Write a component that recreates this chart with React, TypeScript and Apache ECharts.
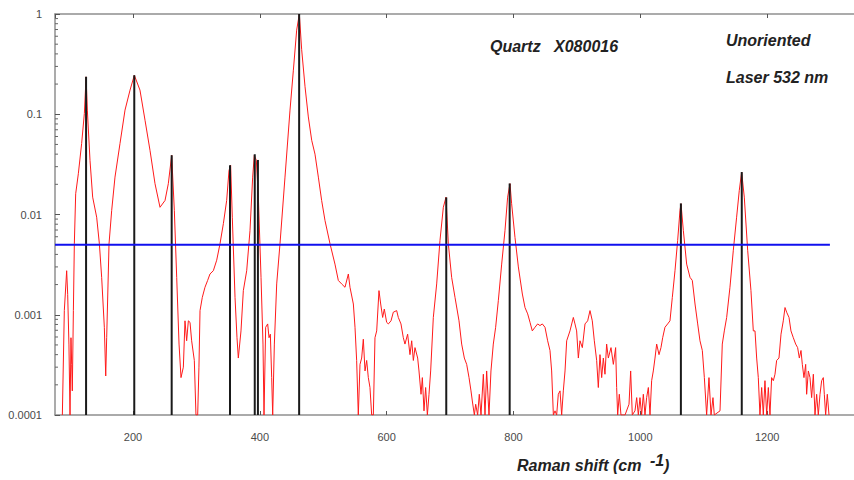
import React, { useEffect, useRef } from "react";
import * as echarts from "echarts";

const xMin = 77;
const xMax = 1337;
const yMin = 0.0001;
const yMax = 1;
const xTickLabels = ["200", "400", "600", "800", "1000", "1200"];
const yTickLabels = ["0.0001", "0.001", "0.01", "0.1", "1"];

// Raman spectrum (shift in cm-1, relative intensity)
const spectrumLow: number[][] = [
  [88.6, 0.0001], [91.7, 0.0011], [95.4, 0.00275], [97, 0.0016], [99, 0.0005], [100.7, 0.0001],
  [102.2, 0.00059], [103.3, 0.00032], [104.3, 0.000174], [106, 0.0011], [107.5, 0.0051], [109.6, 0.0161],
  [113.8, 0.0255], [119, 0.051], [123.3, 0.102], [126, 0.236], [128, 0.11], [132.2, 0.0347],
  [136.4, 0.0149], [142.7, 0.0094], [147, 0.0051], [150.6, 0.00236], [154.8, 0.00075], [157, 0.000245],
  [158.5, 0.00059], [162.2, 0.0051], [166.4, 0.011], [171.6, 0.0236], [179.5, 0.051], [187.4, 0.11],
  [195.3, 0.174], [202.1, 0.245], [211, 0.174], [219, 0.087], [226.8, 0.0437], [234.7, 0.0203],
  [242.6, 0.0118], [250.5, 0.0138], [255.7, 0.0203], [261, 0.039], [265.2, 0.011], [268.9, 0.00236],
  [272.6, 0.00051], [275.7, 0.000236], [279.4, 0.0003], [282, 0.00087], [284.6, 0.00055], [287.3, 0.00087],
  [289.9, 0.00084], [292.5, 0.00055], [296.7, 0.00035], [299.3, 0.0001], [302, 0.0001], [304, 0.0003],
  [305.7, 0.0011], [309.3, 0.00149], [313.5, 0.00188], [317.7, 0.0022], [321.4, 0.00255], [326.7, 0.00275],
  [332, 0.0035], [337.2, 0.0051], [342.5, 0.0081], [347.7, 0.0138], [351.4, 0.0275], [354, 0.031],
  [356.6, 0.0094], [360.9, 0.00149], [364, 0.00059], [366.1, 0.00037], [370.3, 0.00069], [374, 0.00174],
  [379.3, 0.00275], [384.5, 0.0069], [388.7, 0.0236], [391.3, 0.039], [394.5, 0.0347], [397.7, 0.0149],
  [401.9, 0.00236], [405, 0.00051], [406.6, 0.0001], [409.2, 0.00075], [412.4, 0.00081], [414.5, 0.00059],
  [416.6, 0.00064], [418.7, 0.000236], [420.3, 0.0001], [422.9, 0.00051], [426.6, 0.00203], [431.8, 0.0051],
  [439.7, 0.0236], [447.6, 0.11], [452.9, 0.275], [458.1, 0.69], [462.3, 1.0], [466, 0.44],
  [471.3, 0.188], [476.5, 0.094], [481.8, 0.055], [487, 0.04],
];

const spectrumMid: number[][] = [
  [492.3, 0.0236], [497.5, 0.0138], [502.8, 0.0087], [510.7, 0.0051], [518.5, 0.0032], [523.8, 0.0022],
  [529, 0.00203], [534.3, 0.00188], [539.6, 0.00255], [542.2, 0.00188], [547.5, 0.00128], [550.1, 0.00075],
  [552.7, 0.00035], [555.3, 0.0001], [558, 0.00032], [560.6, 0.00037], [563.2, 0.00057], [565.9, 0.000275],
  [568.5, 0.00035], [571.1, 0.000236], [573.7, 0.000188], [576.4, 0.0001], [579, 0.0001], [581.6, 0.00059],
  [584.3, 0.00069], [587.9, 0.00174], [590.6, 0.00128], [593.7, 0.00094], [596.3, 0.00114], [600, 0.00084],
  [602.7, 0.00081], [606.9, 0.00087], [610.5, 0.00106], [615.8, 0.0011], [618.4, 0.00094], [622.6, 0.00081],
  [626.3, 0.00059], [628.9, 0.00051], [633.1, 0.00064], [636.8, 0.0004], [639.5, 0.00055], [642.1, 0.00035],
  [644.7, 0.00047], [648.9, 0.00037], [651, 0.000275], [654.2, 0.000161], [656.3, 0.000236], [658.9, 0.00011],
  [661.5, 0.000188], [664.2, 0.0001], [666.8, 0.000161], [669.4, 0.000275], [673.6, 0.00094], [678.9, 0.00203],
  [684.1, 0.0055], [689.4, 0.0118], [693.6, 0.0149], [697.3, 0.0051], [702.5, 0.00236], [707.8, 0.00149],
  [714.1, 0.00087], [718.3, 0.00051], [722.5, 0.00037], [726.2, 0.00032], [729.9, 0.000236], [733, 0.000174],
  [735.1, 0.000138], [738.3, 0.0001], [740.4, 0.000128], [743.5, 0.0001], [746.1, 0.000161], [748.8, 0.0001],
  [752.5, 0.000255], [755.1, 0.0001], [757.7, 0.000275], [761.4, 0.0001], [764.5, 0.000275], [768.2, 0.00051],
  [771.9, 0.00075], [776.1, 0.00138], [781.4, 0.0032], [786.6, 0.0069], [790.8, 0.0149], [794.5, 0.0203],
  [797.1, 0.0128], [802.4, 0.0059], [807.7, 0.003], [814, 0.00161], [818.2, 0.00118], [822.4, 0.00102],
  [826.1, 0.00084], [829.7, 0.00069], [833.9, 0.00075], [838.1, 0.00081], [841.8, 0.00078], [845.5, 0.00081],
  [849.7, 0.00075], [853.9, 0.00055], [857.6, 0.00044], [860.2, 0.000275], [862.9, 0.0001], [865.5, 0.00011],
  [868.1, 0.0001], [870.7, 0.000161], [873.4, 0.000174], [876, 0.0001], [878.6, 0.000174], [881.3, 0.000275],
  [883.9, 0.00055], [889.1, 0.00069], [894.4, 0.00094],
];

const spectrumHigh: number[][] = [
  [897, 0.00081], [899.6, 0.00069], [902.3, 0.00037], [904.9, 0.00055], [908.6, 0.00047], [912.8, 0.00081],
  [917, 0.00087], [920.7, 0.0011], [924.3, 0.00087], [927.5, 0.00055], [931.2, 0.00035], [933.8, 0.000188],
  [936.4, 0.0004], [939.1, 0.000236], [941.7, 0.00037], [944.3, 0.000255], [946.9, 0.00051], [949.6, 0.00037],
  [953.8, 0.00047], [957.5, 0.00032], [961.1, 0.00047], [962.7, 0.000188], [964.3, 0.0001], [966.9, 0.000161],
  [969.5, 0.0001], [975.9, 0.0001], [982.2, 0.000128], [984.8, 0.000275], [987.4, 0.0001], [991.6, 0.00011],
  [994.3, 0.000149], [996.9, 0.0001], [999.5, 0.000149], [1002.1, 0.0001], [1004.8, 0.000161], [1007.4, 0.0001],
  [1010, 0.000149], [1012.7, 0.000188], [1015.3, 0.0001], [1017.9, 0.00022], [1020.5, 0.000275], [1023.2, 0.00037],
  [1025.8, 0.00051], [1029.5, 0.0004], [1032.6, 0.00047], [1035.3, 0.00059], [1038.9, 0.00075], [1043.1, 0.00081],
  [1046.8, 0.00087], [1050.5, 0.00149], [1054.7, 0.00275], [1058.9, 0.0055], [1062.6, 0.011], [1064.2, 0.0128],
  [1067.9, 0.0069], [1073.1, 0.0032], [1078.4, 0.00236], [1082, 0.0022], [1086.3, 0.00128], [1090.5, 0.00081],
  [1094.1, 0.00055], [1097.8, 0.00044], [1101, 0.000236], [1104.6, 0.0001], [1108.3, 0.000236], [1111.5, 0.0001],
  [1114.6, 0.000149], [1116.7, 0.0001], [1125.7, 0.00011], [1129.3, 0.00051], [1132.5, 0.00069], [1136.2, 0.00094],
  [1141.4, 0.00188], [1146.7, 0.0044], [1151.9, 0.0094], [1156.1, 0.0174], [1159.8, 0.0265], [1164, 0.0149],
  [1169.3, 0.0044], [1174.5, 0.00174], [1178.2, 0.00069], [1180.9, 0.00069], [1183.5, 0.00037], [1186.1, 0.000236],
  [1188.7, 0.0001], [1191.4, 0.000188], [1194, 0.0001], [1196.6, 0.00022], [1199.3, 0.0001], [1201.9, 0.000188],
  [1204.5, 0.0001], [1207.1, 0.000236], [1209.8, 0.00022], [1212.4, 0.000255], [1215, 0.00035], [1218.7, 0.00037],
  [1221.9, 0.00064], [1225.5, 0.00087], [1228.2, 0.00118], [1230.8, 0.00106], [1234.5, 0.00094], [1237.6, 0.00069],
  [1241.3, 0.00059], [1245, 0.00051], [1248.1, 0.00047], [1250.8, 0.00037], [1253.4, 0.00044], [1255.5, 0.00032],
  [1258.1, 0.000236], [1260.8, 0.00032], [1262.3, 0.000161], [1265, 0.000275], [1267.6, 0.000236], [1270.2, 0.000149],
  [1272.9, 0.000255], [1275.5, 0.0001], [1278.1, 0.000161], [1280.7, 0.0001], [1283.4, 0.000161], [1286, 0.00022],
  [1288.6, 0.000236], [1290.2, 0.000161], [1292.3, 0.0001], [1294.9, 0.000161], [1297.6, 0.0001],
];

// Reference peak positions (black lines)
const peakShift = [126, 202, 261, 353, 392, 397, 462, 694, 794, 1064, 1160];
const peakHeight = [0.236, 0.245, 0.039, 0.031, 0.04, 0.035, 1.0, 0.0148, 0.0204, 0.0129, 0.0265];

// Threshold line (blue)
const thresholdShift = [77, 1299];
const thresholdValue = 0.005;

const minorDecades = [0.0001, 0.001, 0.01, 0.1];
const minorMultipliers = [2, 3, 4, 5, 6, 7, 8, 9];

const FONT = '"Liberation Sans", Arial, sans-serif';

export default function App() {
  const ref = useRef<HTMLDivElement>(null);

  useEffect(() => {
    const chart = echarts.init(ref.current as HTMLDivElement, null, { renderer: "svg" });
    const spectrum = [...spectrumLow, ...spectrumMid, ...spectrumHigh];
    const minorTicks: number[][] = [];
    minorDecades.forEach((d) => minorMultipliers.forEach((m) => minorTicks.push([xMin, d * m])));

    const axisLineStyle = { color: "#8f8f8f", width: 1.5 };

    const option: any = {
      animation: false,
      backgroundColor: "#ffffff",
      grid: { left: 55, right: 0, top: 14, bottom: 65, containLabel: false },
      xAxis: [
        {
          type: "value",
          min: xMin,
          max: xMax,
          splitNumber: 6,
          position: "bottom",
          axisLine: { show: true, lineStyle: axisLineStyle },
          axisTick: { show: true, inside: true, length: 4, lineStyle: { color: "#555" } },
          splitLine: { show: false },
          axisLabel: {
            margin: 16,
            color: "#4a4a4a",
            fontSize: 11,
            fontFamily: FONT,
            showMinLabel: false,
            showMaxLabel: false,
            formatter: (v: number) => (xTickLabels.includes(String(v)) ? String(v) : ""),
          },
        },
        {
          type: "value",
          min: xMin,
          max: xMax,
          splitNumber: 6,
          position: "top",
          axisLine: { show: true, onZero: false, lineStyle: axisLineStyle },
          axisTick: { show: true, inside: true, length: 4, lineStyle: { color: "#555" } },
          splitLine: { show: false },
          axisLabel: { show: false },
        },
      ],
      yAxis: {
        type: "log",
        logBase: 10,
        min: yMin,
        max: yMax,
        axisLine: { show: true, lineStyle: axisLineStyle },
        axisTick: { show: true, inside: true, length: 5, lineStyle: { color: "#555" } },
        splitLine: { show: false },
        axisLabel: {
          margin: 13,
          color: "#4a4a4a",
          fontSize: 11,
          fontFamily: FONT,
          formatter: (v: number) => {
            const idx = Math.round(Math.log10(v)) + 4;
            return yTickLabels[idx] ?? "";
          },
        },
      },
      series: [
        {
          type: "custom",
          name: "minor ticks",
          silent: true,
          xAxisIndex: 0,
          data: minorTicks,
          renderItem: (_p: any, api: any) => {
            const pt = api.coord([api.value(0), api.value(1)]);
            return {
              type: "line",
              shape: { x1: pt[0], y1: pt[1], x2: pt[0] + 3, y2: pt[1] },
              style: { stroke: "#666", lineWidth: 1 },
            };
          },
          clip: false,
          z: 1,
        },
        {
          type: "line",
          name: "spectrum",
          xAxisIndex: 0,
          data: spectrum,
          showSymbol: false,
          symbol: "none",
          smooth: false,
          clip: true,
          lineStyle: { color: "#ff1a1a", width: 1 },
          z: 2,
        },
        {
          type: "custom",
          name: "peaks",
          xAxisIndex: 0,
          data: peakShift.map((s, i) => [s, peakHeight[i]]),
          renderItem: (_p: any, api: any) => {
            const top = api.coord([api.value(0), api.value(1)]);
            const bottom = api.coord([api.value(0), yMin]);
            return {
              type: "line",
              shape: { x1: top[0], y1: top[1], x2: bottom[0], y2: bottom[1] },
              style: { stroke: "#1a1a1a", lineWidth: 2 },
            };
          },
          z: 3,
        },
        {
          type: "line",
          name: "threshold",
          xAxisIndex: 0,
          data: thresholdShift.map((s) => [s, thresholdValue]),
          showSymbol: false,
          symbol: "none",
          lineStyle: { color: "#1010ee", width: 2 },
          z: 4,
        },
      ],
      graphic: [
        {
          type: "text",
          x: 490,
          y: 46,
          style: {
            text: "Quartz   X080016",
            font: `italic bold 16px ${FONT}`,
            fill: "#222",
            align: "left",
            verticalAlign: "middle",
          },
        },
        {
          type: "text",
          x: 726,
          y: 40,
          style: {
            text: "Unoriented",
            font: `italic bold 16px ${FONT}`,
            fill: "#222",
            align: "left",
            verticalAlign: "middle",
          },
        },
        {
          type: "text",
          x: 726,
          y: 77,
          style: {
            text: "Laser 532 nm",
            font: `italic bold 16px ${FONT}`,
            fill: "#222",
            align: "left",
            verticalAlign: "middle",
          },
        },
        {
          type: "text",
          x: 517,
          y: 465,
          style: {
            text: "Raman shift (cm",
            font: `italic bold 16px ${FONT}`,
            fill: "#222",
            align: "left",
            verticalAlign: "middle",
          },
        },
        {
          type: "text",
          x: 650,
          y: 460,
          style: {
            text: "-1",
            font: `italic bold 16px ${FONT}`,
            fill: "#222",
            align: "left",
            verticalAlign: "middle",
          },
        },
        {
          type: "text",
          x: 664,
          y: 465,
          style: {
            text: ")",
            font: `italic bold 16px ${FONT}`,
            fill: "#222",
            align: "left",
            verticalAlign: "middle",
          },
        },
      ],
    };

    chart.setOption(option);
    return () => chart.dispose();
  }, []);

  return (
    <div
      ref={ref}
      style={{ position: "fixed", left: 0, top: 0, width: 854, height: 480, background: "#fff" }}
    />
  );
}
